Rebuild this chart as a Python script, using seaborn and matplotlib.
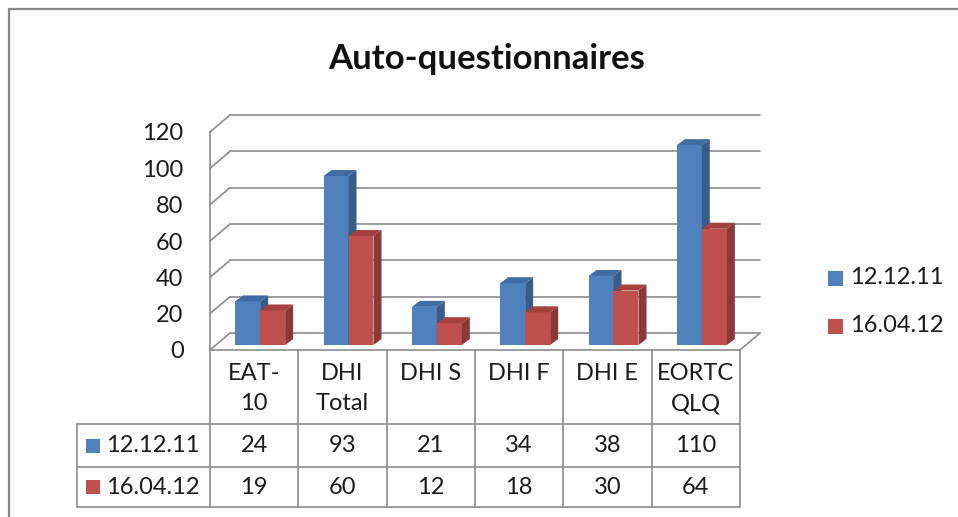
import numpy as np
import pandas as pd
import matplotlib
matplotlib.use("Agg")
import matplotlib.pyplot as plt
import seaborn as sns
from matplotlib.transforms import Affine2D, blended_transform_factory
from matplotlib.patches import Polygon, Rectangle
from matplotlib.lines import Line2D

# ---------------- data ----------------
categories = ["EAT-\n10", "DHI\nTotal", "DHI S", "DHI F", "DHI E", "EORTC\nQLQ"]
series_names = ["12.12.11", "16.04.12"]
values_1 = [24, 93, 21, 34, 38, 110]
values_2 = [19, 60, 12, 18, 30, 64]
y_ticks = [0, 20, 40, 60, 80, 100, 120]
title = "Auto-questionnaires"

# ---------------- style ----------------
BLUE, RED = "#4F81BD", "#C0504D"
BLUE_SIDE, RED_SIDE = "#385D8A", "#8C3836"
BLUE_TOP, RED_TOP = "#3F6CA3", "#A4403D"
GRID = "#8C8C8C"
FONT = "Lato"

sns.set_style("white")
plt.rcParams["font.family"] = [FONT, "DejaVu Sans"]

W, H = 958, 517
fig = plt.figure(figsize=(W / 100, H / 100), dpi=100)
fig.patch.set_facecolor("white")
pix = Affine2D().scale(1 / W, -1 / H).translate(0, 1) + fig.transFigure


def fx(p):
    return p / W


def fy(p):
    return 1 - p / H


X0, X1, Y0, Y1 = 210, 740, 350, 132
ax = fig.add_axes([fx(X0), fy(Y0), fx(X1) - fx(X0), fy(Y1) - fy(Y0)])

df = pd.DataFrame({
    "cat": categories * 2,
    "value": values_1 + values_2,
    "series": [s for s in series_names for _ in categories],
})
sns.barplot(data=df, x="cat", y="value", hue="series", palette=[BLUE, RED],
            width=0.566, saturation=1, ax=ax, legend=False, linewidth=0,
            errorbar=None)
ax.set_xlim(-0.5, len(categories) - 0.5)
ax.set_ylim(0, 120)
ax.patch.set_visible(False)
for s in ["top", "right", "bottom"]:
    ax.spines[s].set_visible(False)
ax.spines["left"].set_color(GRID)
ax.spines["left"].set_linewidth(1.2)
ax.set_yticks(y_ticks)
ax.set_xticks([])
ax.set_xlabel("")
ax.set_ylabel("")
ax.tick_params(axis="y", direction="out", length=5, width=1.2, color=GRID,
               pad=14, labelsize=17, labelcolor="#1a1a1a")

fig.canvas.draw()
o = ax.transData.transform((0, 0))
ux = ax.transData.transform((1, 0))[0] - o[0]
uy = ax.transData.transform((0, 1))[1] - o[1]
wdx, wdy = 20 / ux, 17 / uy   # wall depth
bdx, bdy = 8 / ux, 6 / uy     # bar depth
sx, sy = 6 / ux, 5 / uy       # bar position in depth

xl, xr = -0.5, len(categories) - 0.5
# back wall gridlines and side wall diagonals
for v in y_ticks:
    ax.add_line(Line2D([xl + wdx, xr + wdx], [v + wdy, v + wdy], color=GRID,
                       lw=1.2, clip_on=False, zorder=1))
    ax.add_line(Line2D([xl, xl + wdx], [v, v + wdy], color=GRID, lw=1.2,
                       clip_on=False, zorder=1))
ax.add_line(Line2D([xr, xr + wdx], [0, wdy], color=GRID, lw=1.2,
                   clip_on=False, zorder=1))

# 3D bars
n = len(categories)
for idx, p in enumerate(ax.patches):
    is_blue = idx < n
    z = 3 + idx * 0.1
    p.set_x(p.get_x() + sx)
    h = p.get_height()
    p.set_y(sy)
    p.set_zorder(z)
    p.set_clip_on(False)
    x0 = p.get_x()
    x1 = x0 + p.get_width()
    y0, y1 = sy, sy + h
    side = Polygon([(x1, y0), (x1 + bdx, y0 + bdy), (x1 + bdx, y1 + bdy), (x1, y1)],
                   closed=True, facecolor=BLUE_SIDE if is_blue else RED_SIDE,
                   edgecolor="none", zorder=z + 0.01, clip_on=False)
    top = Polygon([(x0, y1), (x1, y1), (x1 + bdx, y1 + bdy), (x0 + bdx, y1 + bdy)],
                  closed=True, facecolor=BLUE_TOP if is_blue else RED_TOP,
                  edgecolor="none", zorder=z + 0.02, clip_on=False)
    ax.add_patch(side)
    ax.add_patch(top)

# ---------------- data table ----------------
bt = blended_transform_factory(ax.transData, pix)
TL = 77
R1, R2, R3 = 424, 467, 507
xr_px = ax.transData.transform((xr, 0))[0]
for k in range(n + 1):
    fig.add_artist(Line2D([xl + k, xl + k], [Y0, R3], transform=bt, color=GRID, lw=1.2))
fig.add_artist(Line2D([X0, xr_px], [Y0, Y0], transform=pix, color=GRID, lw=1.2))
for yy in [R1, R2, R3]:
    fig.add_artist(Line2D([TL, xr_px], [yy, yy], transform=pix, color=GRID, lw=1.2))
fig.add_artist(Line2D([TL, TL], [R1, R3], transform=pix, color=GRID, lw=1.2))

for i, c in enumerate(categories):
    fig.text(i, 363, c, transform=bt, ha="center", va="top", fontsize=17,
             linespacing=1.55, color="#1a1a1a")
for vals, yy in [(values_1, (R1 + R2) / 2), (values_2, (R2 + R3) / 2)]:
    for i, v in enumerate(vals):
        fig.text(i, yy, str(v), transform=bt, ha="center", va="center",
                 fontsize=17, color="#1a1a1a")
for name, col, yy in [(series_names[0], BLUE, (R1 + R2) / 2),
                      (series_names[1], RED, (R2 + R3) / 2)]:
    fig.add_artist(Rectangle((86, yy - 7), 14, 14, transform=pix,
                             facecolor=col, edgecolor="none"))
    fig.text(106, yy, name, transform=pix, ha="left", va="center",
             fontsize=17, color="#1a1a1a")

# ---------------- right legend ----------------
for name, col, yy in [(series_names[0], BLUE, 278), (series_names[1], RED, 326)]:
    fig.add_artist(Rectangle((828, yy - 7.5), 15, 15, transform=pix,
                             facecolor=col, edgecolor="none"))
    fig.text(850, yy, name, transform=pix, ha="left", va="center",
             fontsize=17, color="#1a1a1a")

# ---------------- title & frame ----------------
fig.text(487, 69, title, transform=pix, ha="center", va="baseline",
         fontsize=25, fontweight="bold", color="#111111")
fig.add_artist(Line2D([9, W], [8.5, 8.5], transform=pix, color="#888888", lw=1.6))
fig.add_artist(Line2D([9, 9], [8.5, H], transform=pix, color="#888888", lw=1.6))

fig.savefig("out.png", dpi=100, facecolor="white")
